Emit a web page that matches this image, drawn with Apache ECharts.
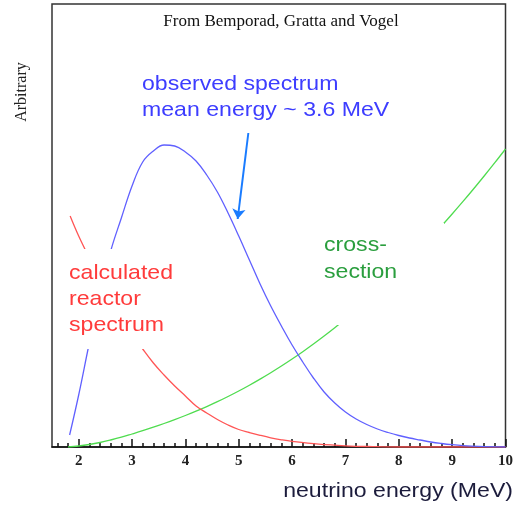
<!DOCTYPE html>
<html><head><meta charset="utf-8">
<script src="https://cdn.jsdelivr.net/npm/echarts@6/dist/echarts.min.js"></script>
<style>html,body{margin:0;padding:0;background:#fff}#c{width:516px;height:506px}</style>
</head><body><div id="c"></div>
<script>
// Observed spectrum (blue)
const obsE = [1.83,2.0,2.2,2.4,2.6,2.8,3.0,3.2,3.4,3.6,3.8,4.0,4.2,4.4,4.6,4.8,5.0,5.2,5.4,5.6,5.8,6.0,6.2,6.4,6.6,6.8,7.0,7.2,7.4,7.6,7.8,8.0,8.2,8.4,8.6,8.8,9.0,9.2,9.5,10.0];
const obsV = [12,52,104,152,196,229,261,285,296,302,301,295,286,272,255,234,211,187,163,141,121,102,85,69,55,44,35,28,22.5,18,14.5,11.5,9,7,5,3.5,2.3,1.4,0.6,0];
// Calculated reactor spectrum (red)
const fluxE = [1.84,2.0,2.2,2.4,2.6,2.8,3.0,3.2,3.4,3.6,3.8,4.0,4.2,4.4,4.6,4.8,5.0,5.2,5.4,5.6,5.8,6.0,6.5,7.0,7.5,8.0,9.0,10.0];
const fluxV = [231,211,189,168,148,130,113,98,84,72,61,51,41,34,27.5,22,17.5,14.5,11.7,9.2,7.2,5.6,2.8,1.2,0.4,0,0,0];
// Cross-section (green)
const xsE = [1.8,2.0,2.2,2.4,2.6,2.8,3.0,3.2,3.4,3.6,3.8,4.0,4.2,4.4,4.6,4.8,5.0,5.2,5.4,5.6,5.8,6.0,6.2,6.4,6.6,6.8,7.0,7.2,7.4,7.6,7.8,8.0,8.2,8.4,8.6,8.8,9.0,9.2,9.4,9.6,9.8,10.0];
const xsV = [0,1,2.5,4.5,7,9.8,13,16.3,19.8,23.5,27.4,31.5,35.8,40.4,45.3,50.5,56,61.8,67.9,74.3,81,88,95.3,103,111,119.3,128,137,146.3,156,166,176.3,187,198,209.3,221,233,245.3,258,271,284.3,298];
// Axis ticks
const majorTicks = [2,3,4,5,6,7,8,9,10];
const minorTicks = [1.6,1.8,2.2,2.4,2.6,2.8,3.2,3.4,3.6,3.8,4.2,4.4,4.6,4.8,5.2,5.4,5.6,5.8,6.2,6.4,6.6,6.8,7.2,7.4,7.6,7.8,8.2,8.4,8.6,8.8,9.2,9.4,9.6,9.8];
// Arrow annotation (data coords)
const arrowStart = [5.18,314];
const arrowEnd = [4.98,228];

const pairs = (xs, ys) => xs.map((x,i)=>[x,ys[i]]);
const chart = echarts.init(document.getElementById('c'));
const sansFont = "'Liberation Sans', Arial, sans-serif";
const serifFont = "'Liberation Serif', 'Times New Roman', serif";
const sx = 1.1;

chart.setOption({
  animation:false,
  grid:{left:52,right:9,top:4,bottom:59,show:true,borderColor:'#333',borderWidth:1.5,backgroundColor:'transparent'},
  xAxis:[{
    type:'value',min:1.5,max:10,
    axisLine:{show:true,lineStyle:{color:'#111',width:1.5}},
    axisTick:{show:true,inside:true,length:4,customValues:minorTicks,lineStyle:{color:'#111',width:1.5}},
    axisLabel:{show:true,customValues:majorTicks,margin:7,fontFamily:serifFont,fontWeight:'bold',fontSize:15,color:'#222'},
    splitLine:{show:false}
  },{
    type:'value',min:1.5,max:10,position:'bottom',
    axisLine:{show:false},
    axisTick:{show:true,inside:true,length:8,customValues:majorTicks,lineStyle:{color:'#111',width:1.5}},
    axisLabel:{show:false},
    splitLine:{show:false}
  }],
  yAxis:{type:'value',min:0,max:443,axisLine:{show:false},axisTick:{show:false},axisLabel:{show:false},splitLine:{show:false}},
  series:[
    {type:'line',name:'cross-section',data:pairs(xsE,xsV),showSymbol:false,smooth:0.4,lineStyle:{color:'#4fdc4f',width:1.3},z:2},
    {type:'line',name:'reactor',data:pairs(fluxE,fluxV),showSymbol:false,smooth:0.4,lineStyle:{color:'#ff5555',width:1.3},z:3},
    {type:'line',name:'observed',data:pairs(obsE,obsV),showSymbol:false,smooth:0.4,lineStyle:{color:'#6060ff',width:1.3},z:4,
      markLine:{silent:true,symbol:['none','arrow'],symbolSize:10,label:{show:false},
        lineStyle:{color:'#1a7cff',width:2,type:'solid'},
        data:[[{coord:arrowStart},{coord:arrowEnd}]]}}
  ],
  graphic:[
    {type:'rect',z:50,shape:{x:60,y:249,width:118,height:100},style:{fill:'#fff'}},
    {type:'rect',z:50,shape:{x:318,y:223,width:126,height:102},style:{fill:'#fff'}},
    {type:'text',z:60,x:281,y:22,style:{text:'From Bemporad, Gratta and Vogel',font:'17px '+serifFont,fill:'#111',align:'center',verticalAlign:'middle'}},
    {type:'text',z:60,x:22,y:92,rotation:Math.PI/2,style:{text:'Arbitrary',font:'16px '+serifFont,fill:'#222',align:'center',verticalAlign:'middle'}},
    {type:'text',z:60,x:142,y:84,scaleX:sx,style:{text:'observed spectrum',font:'21px '+sansFont,fill:'#3d3dff',align:'left',verticalAlign:'middle'}},
    {type:'text',z:60,x:142,y:110,scaleX:sx,style:{text:'mean energy ~ 3.6 MeV',font:'21px '+sansFont,fill:'#3d3dff',align:'left',verticalAlign:'middle'}},
    {type:'text',z:60,x:69,y:273,scaleX:sx,style:{text:'calculated',font:'21px '+sansFont,fill:'#ff3b3b',align:'left',verticalAlign:'middle'}},
    {type:'text',z:60,x:69,y:299,scaleX:sx,style:{text:'reactor',font:'21px '+sansFont,fill:'#ff3b3b',align:'left',verticalAlign:'middle'}},
    {type:'text',z:60,x:69,y:325,scaleX:sx,style:{text:'spectrum',font:'21px '+sansFont,fill:'#ff3b3b',align:'left',verticalAlign:'middle'}},
    {type:'text',z:60,x:324,y:245,scaleX:sx,style:{text:'cross-',font:'21px '+sansFont,fill:'#2a9e3e',align:'left',verticalAlign:'middle'}},
    {type:'text',z:60,x:324,y:272,scaleX:sx,style:{text:'section',font:'21px '+sansFont,fill:'#2a9e3e',align:'left',verticalAlign:'middle'}},
    {type:'text',z:60,x:513,y:491,scaleX:sx,style:{text:'neutrino energy (MeV)',font:'21px '+sansFont,fill:'#1c1c3c',align:'right',verticalAlign:'middle'}}
  ]
});
</script></body></html>
